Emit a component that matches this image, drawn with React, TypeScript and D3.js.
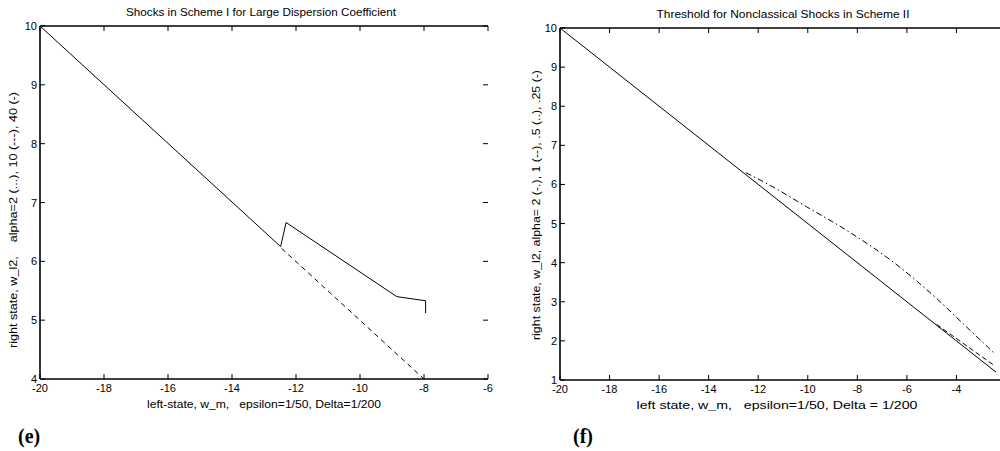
import React from "react";
import * as d3 from "d3";

// ---- data ----
const leftXTicks = [-20, -18, -16, -14, -12, -10, -8, -6];
const leftYTicks = [4, 5, 6, 7, 8, 9, 10];
const leftSolidX = [-20, -12.48, -12.31, -8.85, -7.95, -7.95];
const leftSolidY = [10, 6.25, 6.66, 5.4, 5.33, 5.12];
const leftDashedX = [-12.45, -8];
const leftDashedY = [6.22, 4.0];

const rightXTicks = [-20, -18, -16, -14, -12, -10, -8, -6, -4, -2];
const rightYTicks = [1, 2, 3, 4, 5, 6, 7, 8, 9, 10];
const rightSolidX = [-20, -2.4];
const rightSolidY = [10, 1.2];
const rightDashDotX = [-12.5, -11.53, -10.05, -8.44, -6.56, -4.81, -3.6, -2.46];
const rightDashDotY = [6.3, 5.98, 5.43, 4.83, 4.02, 3.09, 2.36, 1.68];
const rightDashedX = [-4.8, -2.45];
const rightDashedY = [2.42, 1.36];

const FONT = "'Liberation Sans', Arial, Helvetica, sans-serif";

type Series = { xs: number[]; ys: number[]; dash?: string; smooth?: boolean };

function Panel(props: {
  left: number; right: number; top: number; bottom: number;
  xDomain: [number, number]; yDomain: [number, number];
  xTicks: number[]; yTicks: number[];
  series: Series[];
  title: string; titleX: number; titleW: number;
  xLabel: string; xLabelX: number; xLabelW: number;
  yLabel: string; yLabelX: number; yLabelY: number; yLabelW: number;
  tag: string; tagX: number;
}) {
  const p = props;
  const x = d3.scaleLinear().domain(p.xDomain).range([p.left, p.right]);
  const y = d3.scaleLinear().domain(p.yDomain).range([p.bottom, p.top]);
  const tl = 5;
  return (
    <g>
      {p.series.map((s, i) => {
        const line = d3.line<[number, number]>().x(d => x(d[0])).y(d => y(d[1]))
          .curve(s.smooth ? d3.curveMonotoneX : d3.curveLinear);
        return (
          <path key={i} d={line(s.xs.map((v, j) => [v, s.ys[j]] as [number, number])) || ""}
            fill="none" stroke="#000" strokeWidth={1} strokeDasharray={s.dash} />
        );
      })}
      {/* axes frame: left, bottom, top */}
      <line x1={p.left} x2={p.left} y1={p.top} y2={p.bottom} stroke="#000" strokeWidth={1.6} />
      <line x1={p.left} x2={p.right} y1={p.bottom} y2={p.bottom} stroke="#000" strokeWidth={1.6} />
      <line x1={p.left} x2={p.right} y1={p.top} y2={p.top} stroke="#000" strokeWidth={1.6} />
      {p.xTicks.map(t => (
        <g key={"x" + t}>
          <line x1={x(t)} x2={x(t)} y1={p.bottom} y2={p.bottom - tl} stroke="#000" strokeWidth={1} />
          <line x1={x(t)} x2={x(t)} y1={p.top} y2={p.top + tl} stroke="#000" strokeWidth={1} />
          <text x={x(t)} y={p.bottom + 13} textAnchor="middle" fontSize={11} fontFamily={FONT}>{t}</text>
        </g>
      ))}
      {p.yTicks.map(t => (
        <g key={"y" + t}>
          <line x1={p.left} x2={p.left + tl} y1={y(t)} y2={y(t)} stroke="#000" strokeWidth={1} />
          <line x1={p.right} x2={p.right - tl} y1={y(t)} y2={y(t)} stroke="#000" strokeWidth={1} />
          <text x={p.left - 3} y={y(t) + 4} textAnchor="end" fontSize={11} fontFamily={FONT}>{t}</text>
        </g>
      ))}
      <text x={p.titleX} y={p.top - 10} textAnchor="middle" fontSize={11} fontFamily={FONT}
        textLength={p.titleW} lengthAdjust="spacingAndGlyphs">{p.title}</text>
      <text x={p.xLabelX} y={p.bottom + 29} textAnchor="middle" fontSize={10.5} fontFamily={FONT}
        textLength={p.xLabelW} lengthAdjust="spacingAndGlyphs" style={{ whiteSpace: "pre" }}>{p.xLabel}</text>
      <text transform={`translate(${p.yLabelX},${p.yLabelY}) rotate(-90)`} textAnchor="middle"
        fontSize={10.5} fontFamily={FONT} textLength={p.yLabelW} lengthAdjust="spacingAndGlyphs"
        style={{ whiteSpace: "pre" }}>{p.yLabel}</text>
      <text x={p.tagX} y={443} fontSize={20} fontWeight="bold"
        fontFamily="'Liberation Serif', 'DejaVu Serif', serif">{p.tag}</text>
    </g>
  );
}

export default function App() {
  return (
    <svg width={1000} height={451} style={{ position: "absolute", left: 0, top: 0, background: "#fff" }}>
      <rect x={0} y={0} width={1000} height={451} fill="#fff" />
      <Panel left={40} right={488} top={26} bottom={379}
        xDomain={[-20, -6]} yDomain={[4, 10]} xTicks={leftXTicks} yTicks={leftYTicks}
        series={[
          { xs: leftDashedX, ys: leftDashedY, dash: "5,4" },
          { xs: leftSolidX, ys: leftSolidY },
        ]}
        title="Shocks in Scheme I for Large Dispersion Coefficient" titleX={261} titleW={270}
        xLabel="left-state, w_m,   epsilon=1/50, Delta=1/200" xLabelX={264} xLabelW={234}
        yLabel="right state, w_l2,    alpha=2 (...), 10 (---), 40 (-)" yLabelX={17} yLabelY={220} yLabelW={256}
        tag="(e)" tagX={18} />
      <Panel left={560} right={1006} top={28} bottom={380}
        xDomain={[-20, -2]} yDomain={[1, 10]} xTicks={rightXTicks} yTicks={rightYTicks}
        series={[
          { xs: rightDashDotX, ys: rightDashDotY, dash: "6,3,1.5,3", smooth: true },
          { xs: rightDashedX, ys: rightDashedY, dash: "5,3" },
          { xs: rightSolidX, ys: rightSolidY },
        ]}
        title="Threshold for Nonclassical Shocks in Scheme II" titleX={783} titleW={253}
        xLabel="left state, w_m,   epsilon=1/50, Delta = 1/200" xLabelX={777} xLabelW={281}
        yLabel="right state, w_l2, alpha= 2 (-.), 1 (--), .5 (..), .25 (-)" yLabelX={540} yLabelY={205} yLabelW={270}
        tag="(f)" tagX={573} />
    </svg>
  );
}
